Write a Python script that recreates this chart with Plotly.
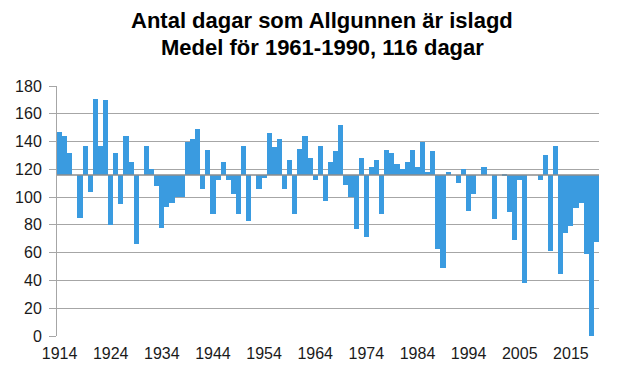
import plotly.graph_objects as go

# Ice-covered days per season, Allgunnen
years = [1914, 1915, 1916, 1917, 1918, 1919, 1920, 1921, 1922, 1923,
         1924, 1925, 1926, 1927, 1928, 1929, 1930, 1931, 1932, 1933,
         1934, 1935, 1936, 1937, 1938, 1939, 1940, 1941, 1942, 1943,
         1944, 1945, 1946, 1947, 1948, 1949, 1950, 1951, 1952, 1953,
         1954, 1955, 1956, 1957, 1958, 1959, 1960, 1961, 1962, 1963,
         1964, 1965, 1966, 1967, 1968, 1969, 1970, 1971, 1972, 1973,
         1974, 1975, 1976, 1977, 1978, 1979, 1980, 1981, 1982, 1983,
         1984, 1985, 1986, 1987, 1988, 1989, 1990, 1991, 1992, 1993,
         1994, 1995, 1996, 1997, 1998, 1999, 2001, 2002, 2003, 2004,
         2005, 2006, 2007, 2008, 2009, 2010, 2011, 2012, 2013, 2014,
         2015, 2016, 2017, 2018, 2019, 2020]

ice_days = [147, 144, 132, 116, 85, 137, 104, 171, 137, 170,
            80, 132, 95, 144, 125, 66, 116, 137, 120, 108,
            78, 93, 96, 100, 100, 140, 142, 149, 106, 134,
            88, 112, 125, 112, 102, 88, 137, 83, 116, 106,
            114, 146, 136, 142, 106, 127, 88, 135, 144, 128,
            112, 137, 97, 125, 133, 152, 109, 100, 77, 128,
            71, 122, 127, 88, 134, 132, 124, 120, 125, 134,
            122, 140, 118, 133, 63, 49, 118, 116, 110, 120,
            90, 102, 116, 122, 116, 84, 116, 115, 89, 69,
            112, 38, 116, 116, 112, 130, 61, 137, 45, 74,
            79, 92, 96, 59, 0, 68]

MEAN = 116  # Medel 1961-1990

tick_labels = ["1914", "1924", "1934", "1944", "1954", "1964",
               "1974", "1984", "1994", "2005", "2015"]

title_lines = ["Antal dagar som Allgunnen är islagd",
               "Medel för 1961-1990, 116 dagar"]

y_ticks = [0, 20, 40, 60, 80, 100, 120, 140, 160, 180]

cats = [str(y) for y in years]
diffs = [v - MEAN for v in ice_days]

BAR_COLOR = "#3a9be0"
GRID = "#a6a6a6"
TXT = "#1a1a1a"
FONT = "Liberation Sans, Arial, sans-serif"

# page body has an 8px margin; figure is sized so it fits the 639x380 window
W, H = 631, 372
ML, MT, MB, MR = 49, 78, 44, 40
PLOT_W = W - ML - MR
PLOT_H = H - MT - MB

fig = go.Figure()
fig.add_trace(go.Bar(
    x=cats, y=diffs, base=MEAN,
    marker=dict(color=BAR_COLOR, line=dict(width=0)),
    hoverinfo="x+text", text=[str(v) for v in ice_days], textposition="none",
))

fig.add_shape(type="line", xref="paper", yref="y",
              x0=0, x1=1, y0=MEAN, y1=MEAN,
              line=dict(color="#8c8c8c", width=1.5), layer="above")

# Two-line bold title as annotations
for txt, ypix in zip(title_lines, [12, 39]):
    fig.add_annotation(
        text="<b>" + txt + "</b>", showarrow=False,
        xref="paper", yref="paper",
        x=(314 - ML) / PLOT_W, xanchor="center",
        y=(MT + PLOT_H - ypix) / PLOT_H, yanchor="middle",
        font=dict(family=FONT, size=22, color="#000000"),
    )

fig.update_layout(
    width=W, height=H,
    margin=dict(l=ML, r=MR, t=MT, b=MB, autoexpand=False),
    paper_bgcolor="white", plot_bgcolor="white",
    bargap=0,
    showlegend=False,
    font=dict(family=FONT, size=17, color=TXT),
    xaxis=dict(
        type="category", automargin=False,
        tickmode="array", tickvals=tick_labels, ticktext=tick_labels,
        showgrid=False, showline=False, ticks="",
        ticklabelstandoff=6,
        tickfont=dict(size=16, color=TXT),
        range=[-0.5, len(cats) - 0.5],
    ),
    yaxis=dict(
        range=[0, 180], automargin=False,
        tickmode="array", tickvals=y_ticks,
        showgrid=True, gridcolor=GRID, gridwidth=1,
        showline=True, linecolor=GRID, linewidth=1,
        ticks="outside", ticklen=7, tickcolor=GRID,
        ticklabelstandoff=4,
        tickfont=dict(size=16, color=TXT),
        zeroline=False,
    ),
)

fig.write_html("out.html")
